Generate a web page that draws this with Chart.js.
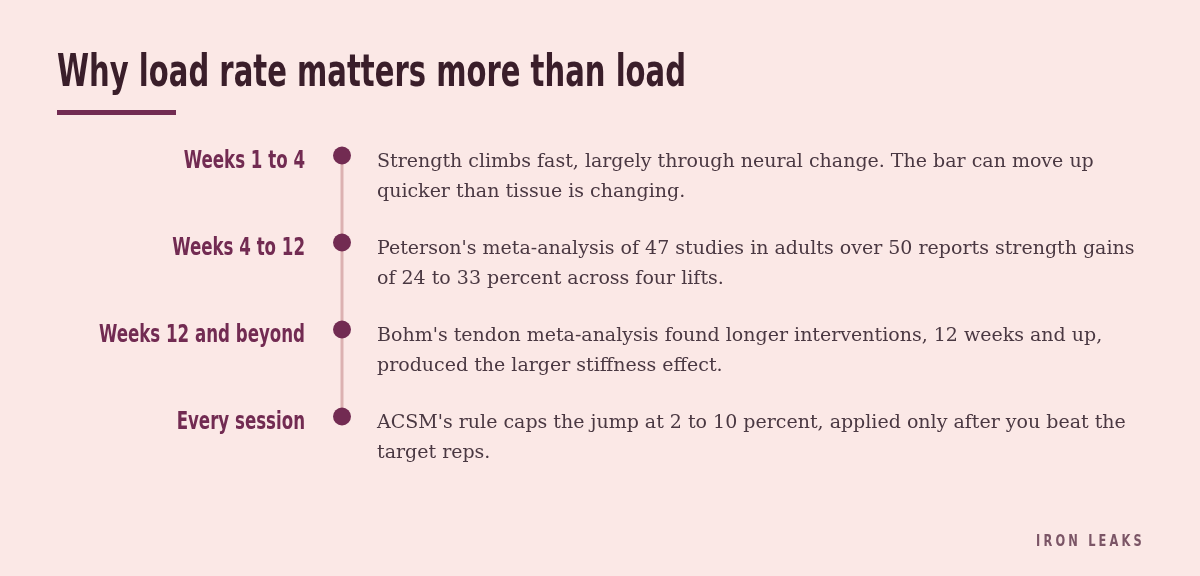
<!DOCTYPE html>
<html>
<head>
<meta charset="utf-8">
<script src="https://cdn.jsdelivr.net/npm/chart.js@4.4.1/dist/chart.umd.min.js"></script>
<style>
  html, body { margin: 0; padding: 0; background: #fbe8e6; }
  #wrap { position: relative; width: 1200px; height: 576px; }
</style>
</head>
<body>
<div id="wrap"><canvas id="timeline"></canvas></div>
<script>
// datos de la linea de tiempo
const stages = ["Weeks 1 to 4", "Weeks 4 to 12", "Weeks 12 and beyond", "Every session"];
const notes = [
    ["Strength climbs fast, largely through neural change. The bar can move up",
     "quicker than tissue is changing."],
    ["Peterson's meta-analysis of 47 studies in adults over 50 reports strength gains",
     "of 24 to 33 percent across four lifts."],
    ["Bohm's tendon meta-analysis found longer interventions, 12 weeks and up,",
     "produced the larger stiffness effect."],
    ["ACSM's rule caps the jump at 2 to 10 percent, applied only after you beat the",
     "target reps."]
];
const titleText = "Why load rate matters more than load";
const sourceText = "IRON LEAKS";

const colors = {
    bg: "#fbe8e6",
    title: "#3a1e2a",
    accent: "#722b52",
    line: "#dcb1b1",
    body: "#4a3842",
    source: "#7b5566"
};
const condensed = "'Liberation Sans Narrow', 'DejaVu Sans Condensed', 'Roboto Condensed', sans-serif";
const serif = "'DejaVu Serif', 'Liberation Serif', serif";
const squeeze = 0.74; // no hay fuente tan estrecha, se comprime a mano

// texto comprimido horizontalmente hasta un ancho dado
function fitText(ctx, text, x, y, width) {
    const w = ctx.measureText(text).width;
    ctx.save();
    ctx.translate(x, y);
    ctx.scale(width / w, 1);
    ctx.fillText(text, 0, 0);
    ctx.restore();
}

// eje de categorias con etiquetas comprimidas
class NarrowCategoryScale extends Chart.CategoryScale {
    drawLabels(chartArea) {
        const ctx = this.ctx;
        const anchor = this.right - this.options.ticks.padding;
        ctx.save();
        ctx.translate(anchor, 0);
        ctx.scale(squeeze, 1);
        ctx.translate(-anchor, 0);
        super.drawLabels(chartArea);
        ctx.restore();
    }
}
NarrowCategoryScale.id = "narrowCategory";
NarrowCategoryScale.defaults = Chart.CategoryScale.defaults;
Chart.register(NarrowCategoryScale);

// titulo, subrayado, notas y firma
const decor = {
    id: "decor",
    beforeDraw(chart) {
        const ctx = chart.ctx;
        ctx.save();
        ctx.fillStyle = colors.bg;
        ctx.fillRect(0, 0, chart.width, chart.height);

        ctx.fillStyle = colors.title;
        ctx.font = "bold 45px " + condensed;
        ctx.textBaseline = "alphabetic";
        ctx.textAlign = "left";
        fitText(ctx, titleText, 57, 86, 629);

        ctx.fillStyle = colors.accent;
        ctx.fillRect(57, 110, 119, 5);

        ctx.fillStyle = colors.source;
        ctx.font = "bold 16px " + condensed;
        ctx.letterSpacing = "4px";
        fitText(ctx, sourceText, 1036, 546, 109);
        ctx.restore();
    },
    afterDatasetsDraw(chart) {
        const ctx = chart.ctx;
        const pts = chart.getDatasetMeta(1).data;
        ctx.save();
        ctx.fillStyle = colors.body;
        ctx.font = "19px " + serif;
        ctx.textAlign = "left";
        ctx.textBaseline = "middle";
        pts.forEach((p, i) => {
            notes[i].forEach((line, j) => {
                ctx.fillText(line, p.x + 35, p.y + 7 + j * 30);
            });
        });
        ctx.restore();
    }
};

const points = stages.map(s => ({ x: 0, y: s }));

new Chart(document.getElementById("timeline"), {
    type: "line",
    data: {
        datasets: [
            {
                // linea vertical, dibujada debajo de los puntos
                data: points,
                order: 2,
                borderColor: colors.line,
                borderWidth: 3,
                pointRadius: 0,
                clip: false
            },
            {
                data: points,
                order: 1,
                showLine: false,
                pointRadius: 9,
                pointHoverRadius: 9,
                pointBackgroundColor: colors.accent,
                pointBorderWidth: 0,
                clip: false
            }
        ]
    },
    options: {
        responsive: true,
        maintainAspectRatio: false,
        animation: false,
        events: [],
        layout: { padding: { top: 112, bottom: 116, left: 0, right: 0 } },
        plugins: { legend: { display: false }, tooltip: { enabled: false } },
        scales: {
            x: { type: "linear", min: 0, max: 100, display: false },
            y: {
                type: "narrowCategory",
                labels: stages,
                offset: true,
                grid: { display: false, drawTicks: false },
                border: { display: false },
                afterFit(scale) { scale.width = 342; },
                ticks: {
                    padding: 37,
                    labelOffset: 6,
                    color: colors.accent,
                    font: { family: condensed, size: 25, weight: "bold" }
                }
            }
        }
    },
    plugins: [decor]
});
</script>
</body>
</html>
